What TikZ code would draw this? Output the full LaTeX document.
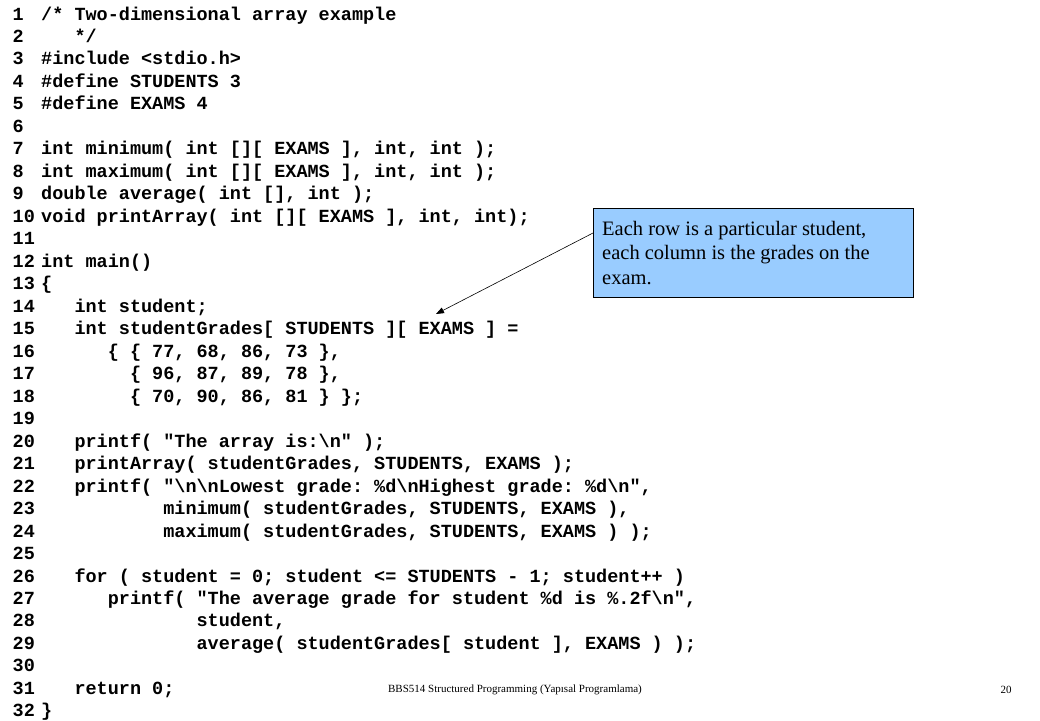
\documentclass[tikz,border=0pt]{standalone}
\usepackage{fontspec}
\setmainfont{Liberation Serif}
\setmonofont{Liberation Mono}
\usetikzlibrary{arrows.meta,calc}
\definecolor{notefill}{HTML}{99CCFF}
\newcommand{\codef}{\fontsize{18.5}{22}\selectfont\ttfamily\bfseries}
\tikzset{
  codeline/.style={font=\codef, anchor=base west, inner sep=0pt},
  numline/.style={font=\codef, anchor=base west, inner sep=0pt},
  notebox/.style={draw=black, line width=0.8pt, fill=notefill, anchor=north west,
    minimum width=320pt, minimum height=89pt, inner sep=0pt},
  notetext/.style={anchor=base west, inner sep=0pt, align=left,
    font=\fontsize{20.5}{24.5}\selectfont},
  pointer/.style={line width=0.6pt, -{Triangle[length=8pt,width=6pt]}},
  footer/.style={font=\fontsize{11}{13}\selectfont, inner sep=0pt}
}
\begin{document}
\begin{tikzpicture}[x=1pt,y=-1pt]
\useasboundingbox[fill=white] (0,0) rectangle (1040,720);
% line numbers
\foreach \i in {1,...,32} {
  \node[numline] (n\i) at (12.5, {20+(\i-1)*22.48}) {\i};
}
\def\cx#1{41+#1*11.1}
\node[codeline] (l1)  at ({\cx{0}},  {20+0*22.48})  {/* Two-dimensional array example};
\node[codeline] (l2)  at ({\cx{3}},  {20+1*22.48})  {*/};
\node[codeline] (l3)  at ({\cx{0}},  {20+2*22.48})  {\#include <stdio.h>};
\node[codeline] (l4)  at ({\cx{0}},  {20+3*22.48})  {\#define STUDENTS 3};
\node[codeline] (l5)  at ({\cx{0}},  {20+4*22.48})  {\#define EXAMS 4};
\node[codeline] (l7)  at ({\cx{0}},  {20+6*22.48})  {int minimum( int [][ EXAMS ], int, int );};
\node[codeline] (l8)  at ({\cx{0}},  {20+7*22.48})  {int maximum( int [][ EXAMS ], int, int );};
\node[codeline] (l9)  at ({\cx{0}},  {20+8*22.48})  {double average( int [], int );};
\node[codeline] (l10) at ({\cx{0}},  {20+9*22.48})  {void printArray( int [][ EXAMS ], int, int);};
\node[codeline] (l12) at ({\cx{0}},  {20+11*22.48}) {int main()};
\node[codeline] (l13) at ({\cx{0}},  {20+12*22.48}) {\{};
\node[codeline] (l14) at ({\cx{3}},  {20+13*22.48}) {int student;};
\node[codeline] (l15) at ({\cx{3}},  {20+14*22.48}) {int studentGrades[ STUDENTS ][ EXAMS ] =};
\node[codeline] (l16) at ({\cx{6}},  {20+15*22.48}) {\{ \{ 77, 68, 86, 73 \},};
\node[codeline] (l17) at ({\cx{8}},  {20+16*22.48}) {\{ 96, 87, 89, 78 \},};
\node[codeline] (l18) at ({\cx{8}},  {20+17*22.48}) {\{ 70, 90, 86, 81 \} \};};
\node[codeline] (l20) at ({\cx{3}},  {20+19*22.48}) {printf( "The array is:\textbackslash n" );};
\node[codeline] (l21) at ({\cx{3}},  {20+20*22.48}) {printArray( studentGrades, STUDENTS, EXAMS );};
\node[codeline] (l22) at ({\cx{3}},  {20+21*22.48}) {printf( "\textbackslash n\textbackslash nLowest grade: \%d\textbackslash nHighest grade: \%d\textbackslash n",};
\node[codeline] (l23) at ({\cx{11}}, {20+22*22.48}) {minimum( studentGrades, STUDENTS, EXAMS ),};
\node[codeline] (l24) at ({\cx{11}}, {20+23*22.48}) {maximum( studentGrades, STUDENTS, EXAMS ) );};
\node[codeline] (l26) at ({\cx{3}},  {20+25*22.48}) {for ( student = 0; student <= STUDENTS - 1; student++ )};
\node[codeline] (l27) at ({\cx{6}},  {20+26*22.48}) {printf( "The average grade for student \%d is \%.2f\textbackslash n",};
\node[codeline] (l28) at ({\cx{14}}, {20+27*22.48}) {student,};
\node[codeline] (l29) at ({\cx{14}}, {20+28*22.48}) {average( studentGrades[ student ], EXAMS ) );};
\node[codeline] (l31) at ({\cx{3}},  {20+30*22.48}) {return 0;};
\node[codeline] (l32) at ({\cx{0}},  {20+31*22.48}) {\}};
% callout
\node[notebox] (note) at (593,208) {};
\node[notetext] (notetxt) at (602,284) {Each row is a particular student,\\each column is the grades on the\\exam.};
\coordinate (tip) at (436,314);
\draw[pointer] ($(note.north west)+(0,25)$) -- (tip);
% footer
\node[footer] (foot) at (515,690) {BBS514 Structured Programming (Yapısal Programlama)};
\node[footer] (page) at (1006,690) {20};
\end{tikzpicture}
\end{document}
